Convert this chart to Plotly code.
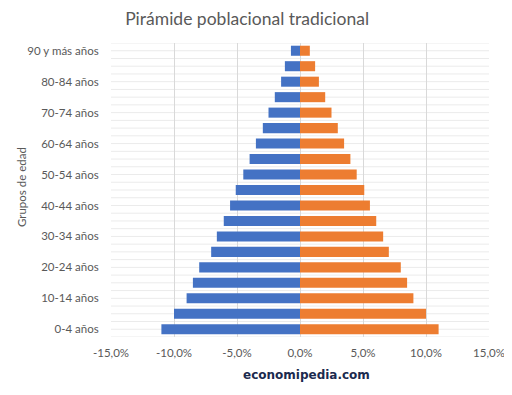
import plotly.graph_objects as go

categories = ["0-4 años", "5-9 años", "10-14 años", "15-19 años", "20-24 años",
              "25-29 años", "30-34 años", "35-39 años", "40-44 años", "45-49 años",
              "50-54 años", "55-59 años", "60-64 años", "65-69 años", "70-74 años",
              "75-79 años", "80-84 años", "85-89 años", "90 y más años"]
hombres = [-11.0, -10.0, -9.0, -8.5, -8.0, -7.05, -6.6, -6.05, -5.55, -5.1,
           -4.5, -4.0, -3.5, -2.95, -2.5, -2.0, -1.5, -1.2, -0.72]
mujeres = [11.0, 10.0, 9.0, 8.5, 8.0, 7.05, 6.6, 6.05, 5.55, 5.1,
           4.5, 4.0, 3.5, 3.0, 2.5, 2.0, 1.5, 1.2, 0.78]
x_ticks = [-15, -10, -5, 0, 5, 10, 15]
x_ticktext = [("%.1f%%" % v).replace(".", ",") for v in x_ticks]
y_ticks = categories[::2]

font = "Lato"
grey = "#595959"

fig = go.Figure()
fig.add_trace(go.Bar(y=categories, x=hombres, orientation="h", name="Hombres",
                     marker=dict(color="#4472C4", line=dict(width=0))))
fig.add_trace(go.Bar(y=categories, x=mujeres, orientation="h", name="Mujeres",
                     marker=dict(color="#ED7D31", line=dict(width=0))))

shapes = []
n = len(categories)
for k in range(2 * n + 1):
    yv = -0.5 + k * 0.5
    shapes.append(dict(type="line", xref="paper", yref="y", x0=0, x1=1, y0=yv, y1=yv,
                       line=dict(color="#ebebeb", width=1), layer="below"))

fig.update_layout(
    width=512, height=395,
    margin=dict(l=103, r=31, t=35, b=66, autoexpand=False),
    paper_bgcolor="white", plot_bgcolor="white",
    barmode="relative", bargap=0.35,
    showlegend=False,
    font=dict(family=font, size=11, color=grey),
    title=dict(text="Pirámide poblacional tradicional", x=0.467, xanchor="center",
               y=0.972, yanchor="middle", font=dict(family=font, size=17.5, color=grey)),
    shapes=shapes,
    xaxis=dict(range=[-15, 15], tickvals=x_ticks, ticktext=x_ticktext, automargin=False,
               showgrid=True, gridcolor="#d9d9d9", gridwidth=1,
               zeroline=True, zerolinecolor="#d9d9d9", zerolinewidth=1,
               showline=False, ticks="outside", ticklen=5, tickcolor="rgba(0,0,0,0)",
               tickfont=dict(size=11.5, color=grey)),
    yaxis=dict(type="category", categoryorder="array", categoryarray=categories,
               automargin=False,
               range=[-0.5, n - 0.5], tickvals=y_ticks, showgrid=False, zeroline=False,
               ticks="outside", ticklen=9, tickcolor="rgba(0,0,0,0)",
               tickfont=dict(size=11.5, color=grey)),
    annotations=[
        dict(text="Grupos de edad", xref="paper", yref="paper", x=-0.238, y=0.51,
             xanchor="center", yanchor="middle", textangle=-90, showarrow=False,
             font=dict(family=font, size=11.5, color=grey)),
        dict(text="<b>economipedia.com</b>", xref="paper", yref="paper",
             x=0.5185, y=-0.129, xanchor="center", yanchor="middle", showarrow=False,
             font=dict(family="DejaVu Sans", size=12, color="#1b2a4e")),
    ],
)

fig.write_html("out.html")
